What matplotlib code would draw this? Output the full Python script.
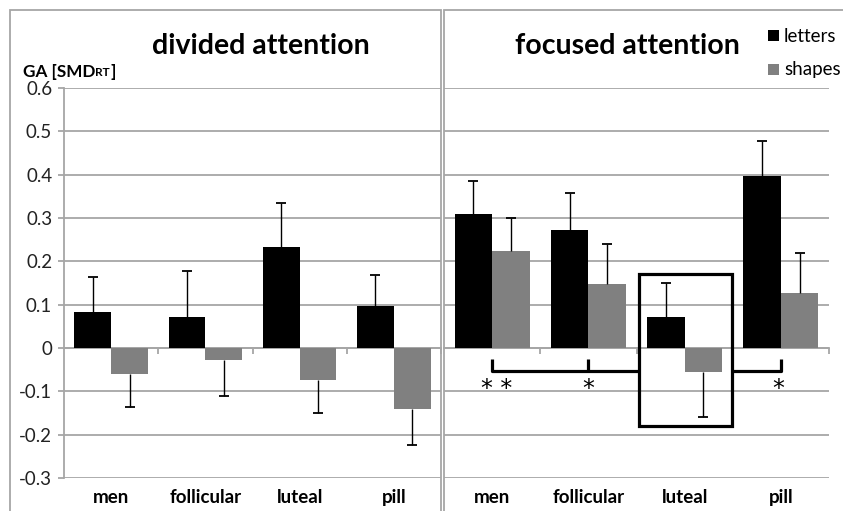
import matplotlib.pyplot as plt
from matplotlib.patches import Rectangle
from matplotlib.transforms import blended_transform_factory
import numpy as np

plt.rcParams['font.family'] = ['Lato', 'DejaVu Sans']

categorias = ["men", "follicular", "luteal", "pill"]
series = ["letters", "shapes"]
colores = ["#000000", "#808080"]

# divided attention
div_letters = [0.083, 0.071, 0.233, 0.098]
div_letters_err = [0.081, 0.106, 0.101, 0.070]
div_shapes = [-0.060, -0.028, -0.074, -0.141]
div_shapes_err = [0.075, 0.083, 0.077, 0.082]

# focused attention
foc_letters = [0.310, 0.273, 0.071, 0.396]
foc_letters_err = [0.076, 0.084, 0.078, 0.081]
foc_shapes = [0.225, 0.147, -0.055, 0.128]
foc_shapes_err = [0.074, 0.094, 0.105, 0.092]

yticks = [-0.3, -0.2, -0.1, 0, 0.1, 0.2, 0.3, 0.4, 0.5, 0.6]
ytick_labels = ["-0.3", "-0.2", "-0.1", "0", "0.1", "0.2", "0.3", "0.4", "0.5", "0.6"]

W, H = 843, 511
fig = plt.figure(figsize=(W / 100, H / 100), dpi=100)
fig.patch.set_facecolor("white")

GRIS = "#a6a6a6"


def caja_px(x0, y0, x1, y1):
    # rectangle in pixel coordinates (origin top-left)
    return Rectangle((x0 / W, 1 - y1 / H), (x1 - x0) / W, (y1 - y0) / H,
                     transform=fig.transFigure, fill=False, edgecolor=GRIS,
                     linewidth=1.3, clip_on=False)


fig.patches.append(caja_px(10, 10, 441, 530))
fig.patches.append(caja_px(444, 10, 860, 530))


def panel(x0, x1, letters, l_err, shapes, s_err, mostrar_y):
    ax = fig.add_axes([x0 / W, 1 - 478 / H, (x1 - x0) / W, (478 - 88) / H])
    ax.set_facecolor("none")
    x = np.arange(len(categorias))
    w = 0.39
    for vals, errs, dx, col in [(letters, l_err, -w / 2, colores[0]),
                                (shapes, s_err, w / 2, colores[1])]:
        vals = np.array(vals)
        errs = np.array(errs)
        ax.bar(x + dx, vals, width=w, color=col, zorder=3)
        # error only on the outer side of each bar, one cap
        fin = np.where(vals < 0, vals - errs, vals + errs)
        ax.vlines(x + dx, vals, fin, color="black", linewidth=1, zorder=4)
        ax.plot(x + dx, fin, linestyle="none", marker="_", markersize=7,
                markeredgewidth=1.3, color="black", zorder=4)
    ax.set_xlim(-0.5, 3.5)
    ax.set_ylim(-0.3, 0.6)
    ax.set_yticks(yticks)
    ax.yaxis.grid(True, color=GRIS, linewidth=1.3, zorder=0)
    ax.set_axisbelow(True)
    for s in ["top", "right"]:
        ax.spines[s].set_visible(False)
    ax.spines["bottom"].set_position(("data", 0))
    ax.spines["bottom"].set_color(GRIS)
    ax.spines["bottom"].set_linewidth(1.3)
    ax.set_xticks([0.5, 1.5, 2.5, 3.5])
    ax.set_xticklabels([])
    ax.tick_params(axis="x", direction="out", length=4, color=GRIS, width=1.3)
    if mostrar_y:
        ax.spines["left"].set_color(GRIS)
        ax.spines["left"].set_linewidth(1.3)
        ax.set_yticklabels(ytick_labels, fontsize=13.5, color="#222222")
        ax.tick_params(axis="y", direction="out", length=4.5, color=GRIS,
                       width=1.3, pad=4)
    else:
        ax.spines["left"].set_visible(False)
        ax.set_yticklabels([])
        ax.tick_params(axis="y", length=0)
    tr = blended_transform_factory(ax.transData, ax.transAxes)
    for i, c in enumerate(categorias):
        ax.text(i, -0.05, c, transform=tr, ha="center", va="center",
                fontsize=13.5, fontweight="bold")
    return ax


ax1 = panel(64, 441, div_letters, div_letters_err, div_shapes, div_shapes_err, True)
ax2 = panel(444, 829, foc_letters, foc_letters_err, foc_shapes, foc_shapes_err, False)

fig.text(261 / W, 1 - 46 / H, "divided attention", ha="center", va="center",
         fontsize=20.5, fontweight="bold")
fig.text(627 / W, 1 - 46 / H, "focused attention", ha="center", va="center",
         fontsize=20.5, fontweight="bold")

# y axis label with small-caps subscript
t = fig.text(23 / W, 1 - 72 / H, "GA [SMD", ha="left", va="center",
             fontsize=12.3, fontweight="bold")
fig.canvas.draw()
bb = t.get_window_extent()
t2 = fig.text(bb.x1 / W, 1 - 73 / H, "RT", ha="left", va="center",
              fontsize=8.5, fontweight="bold")
bb2 = t2.get_window_extent()
fig.text(bb2.x1 / W + 0.001, 1 - 72 / H, "]", ha="left", va="center",
         fontsize=12.3, fontweight="bold")

# legend
for k, (nombre, col) in enumerate(zip(series, colores)):
    yc = 36 + k * 34
    fig.patches.append(Rectangle((768 / W, 1 - (yc + 5.5) / H), 11 / W, 11 / H,
                                 transform=fig.transFigure, facecolor=col,
                                 edgecolor="none"))
    fig.text(784 / W, 1 - yc / H, nombre, ha="left", va="center", fontsize=13.5)

# significance brackets in focused attention
kw = dict(color="black", linewidth=2.3, solid_capstyle="butt", clip_on=False, zorder=5)
ax2.plot([0, 0, 1.53], [-0.026, -0.054, -0.054], **kw)
ax2.plot([1, 1], [-0.026, -0.054], **kw)
ax2.plot([2.49, 3, 3], [-0.054, -0.054, -0.026], **kw)
ax2.add_patch(Rectangle((1.53, -0.18), 2.49 - 1.53, 0.35, fill=False,
                        edgecolor="black", linewidth=2.3, zorder=5))
for xs, s in [(0.05, "* *"), (1.0, "*"), (2.97, "*")]:
    ax2.text(xs, -0.095, s, ha="center", va="center", fontsize=17,
             fontfamily="DejaVu Sans")

fig.savefig("out.png", dpi=100)
